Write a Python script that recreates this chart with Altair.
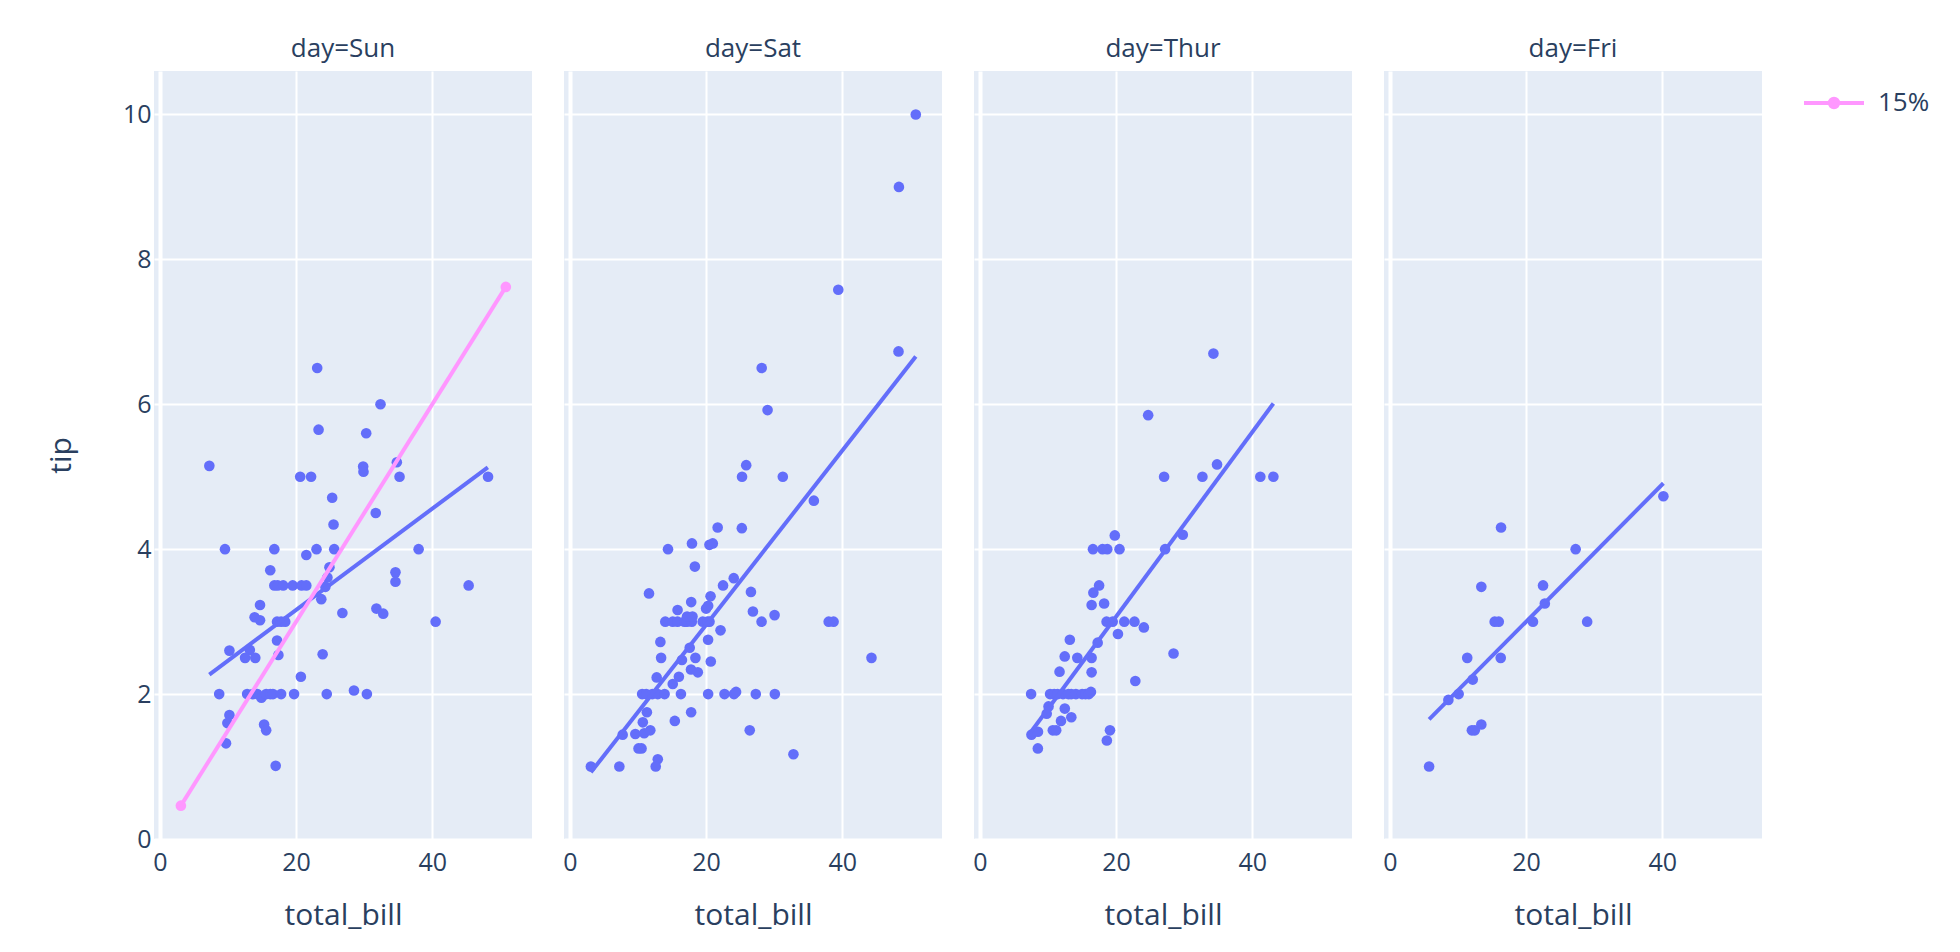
import altair as alt
import pandas as pd

BLUE = "#636EFA"
PINK = "#FF97FF"
TXT = "#2a3f5f"
FONT = "Open Sans"

days = ["Sun", "Sat", "Thur", "Fri"]

sun_bill = [23.1, 32.4, 23.3, 30.3, 7.25, 29.85, 29.9, 34.8, 35.2, 20.6, 22.2, 48.2, 25.3, 31.7, 25.5,
            9.55, 16.8, 23.0, 25.6, 38.0, 21.5, 16.2, 24.9, 24.6, 16.8, 17.3, 18.1, 19.5, 20.8, 21.5,
            24.3, 34.6, 34.6, 45.35, 23.7, 26.8, 31.8, 32.8, 40.5, 14.7, 13.9, 14.7, 17.2, 17.8, 18.4,
            17.2, 10.2, 13.2, 12.5, 14.0, 17.4, 23.9, 20.7, 8.7, 12.8, 13.6, 14.3, 14.9, 15.6, 16.2,
            16.6, 17.8, 19.7, 24.5, 28.5, 30.4, 10.2, 9.9, 9.7, 15.3, 15.6, 17.0]
sun_tip = [6.5, 6.0, 5.65, 5.6, 5.15, 5.14, 5.07, 5.2, 5.0, 5.0, 5.0, 5.0, 4.71, 4.5, 4.34,
           4.0, 4.0, 4.0, 4.0, 4.0, 3.92, 3.71, 3.75, 3.61, 3.5, 3.5, 3.5, 3.5, 3.5, 3.5,
           3.48, 3.68, 3.55, 3.5, 3.31, 3.12, 3.18, 3.11, 3.0, 3.23, 3.06, 3.02, 3.0, 3.0, 3.0,
           2.74, 2.6, 2.61, 2.5, 2.5, 2.54, 2.55, 2.24, 2.0, 2.0, 2.0, 2.0, 1.95, 2.0, 2.0,
           2.0, 2.0, 2.0, 2.0, 2.05, 2.0, 1.71, 1.6, 1.32, 1.58, 1.5, 1.01]

sat_bill = [50.81, 48.33, 39.42, 48.27, 28.17, 29.03, 25.89, 25.28, 31.27, 35.83, 21.7, 25.25, 14.4,
            17.92, 20.49, 20.98, 18.35, 11.61, 24.06, 22.49, 26.59, 20.65, 17.81, 15.81, 20.0, 20.3,
            26.88, 30.06, 28.15, 38.01, 38.73, 44.3, 14.0, 15.1, 15.8, 16.8, 17.2, 17.9, 19.5, 20.2,
            20.5, 17.2, 18.0, 22.12, 20.29, 13.28, 13.39, 17.59, 16.45, 18.43, 20.69, 17.78, 18.78,
            12.74, 16.0, 15.1, 10.6, 11.2, 12.1, 12.9, 13.9, 16.3, 20.3, 22.7, 24.1, 24.4, 27.3, 30.1,
            11.3, 15.4, 17.8, 10.7, 7.74, 9.6, 10.9, 11.8, 26.41, 10.07, 10.51, 32.83, 12.9, 3.07,
            7.25, 12.6]
sat_tip = [10.0, 9.0, 7.58, 6.73, 6.5, 5.92, 5.16, 5.0, 5.0, 4.67, 4.3, 4.29, 4.0,
           4.08, 4.06, 4.08, 3.76, 3.39, 3.6, 3.5, 3.41, 3.35, 3.27, 3.16, 3.18, 3.22,
           3.14, 3.09, 3.0, 3.0, 3.0, 2.5, 3.0, 3.0, 3.0, 3.0, 3.0, 3.0, 3.0, 3.0,
           3.0, 3.07, 3.07, 2.88, 2.75, 2.72, 2.5, 2.64, 2.47, 2.5, 2.45, 2.34, 2.3,
           2.23, 2.24, 2.14, 2.0, 2.0, 2.0, 2.0, 2.0, 2.0, 2.0, 2.0, 2.0, 2.03, 2.0, 2.0,
           1.75, 1.63, 1.75, 1.61, 1.44, 1.45, 1.46, 1.5, 1.5, 1.25, 1.25, 1.17, 1.1, 1.0,
           1.0, 1.0]

thur_bill = [34.3, 24.71, 34.83, 27.05, 32.68, 41.19, 43.11, 29.8, 19.81, 16.6, 18.0, 18.7, 20.5,
             27.2, 17.5, 16.66, 16.4, 18.24, 18.6, 19.5, 21.2, 22.7, 24.08, 20.27, 13.2, 17.29,
             12.45, 14.3, 16.4, 11.69, 16.4, 28.44, 22.82, 7.51, 10.3, 10.9, 11.4, 12.2, 13.0,
             13.4, 14.1, 15.0, 15.5, 16.0, 16.3, 10.07, 9.8, 12.46, 11.9, 13.42, 10.7, 11.2,
             7.56, 8.52, 8.5, 19.1, 18.64]
thur_tip = [6.7, 5.85, 5.17, 5.0, 5.0, 5.0, 5.0, 4.2, 4.19, 4.0, 4.0, 4.0, 4.0,
            4.0, 3.5, 3.4, 3.23, 3.25, 3.0, 3.0, 3.0, 3.0, 2.92, 2.83, 2.75, 2.71,
            2.52, 2.5, 2.5, 2.31, 2.3, 2.56, 2.18, 2.0, 2.0, 2.0, 2.0, 2.0, 2.0,
            2.0, 2.0, 2.0, 2.0, 2.0, 2.03, 1.83, 1.73, 1.8, 1.63, 1.68, 1.5, 1.5,
            1.44, 1.48, 1.25, 1.5, 1.36]

fri_bill = [40.17, 16.32, 27.28, 13.42, 22.49, 22.75, 15.38, 15.98, 21.01, 28.97, 11.35, 16.27,
            12.16, 10.09, 8.58, 13.42, 12.03, 12.46, 5.75]
fri_tip = [4.73, 4.3, 4.0, 3.48, 3.5, 3.25, 3.0, 3.0, 3.0, 3.0, 2.5, 2.5,
           2.2, 2.0, 1.92, 1.58, 1.5, 1.5, 1.0]

# OLS trendline end points
trend_x0 = [7.25, 3.07, 7.51, 5.75]
trend_y0 = [2.27, 0.92, 1.48, 1.65]
trend_x1 = [48.17, 50.81, 43.11, 40.17]
trend_y1 = [5.13, 6.66, 6.01, 4.91]

# 15% reference line (Sun panel only)
ref_x = [3.07, 50.81]
ref_y = [0.46, 7.62]
ref_name = "15%"

bills = {"Sun": sun_bill, "Sat": sat_bill, "Thur": thur_bill, "Fri": fri_bill}
tips = {"Sun": sun_tip, "Sat": sat_tip, "Thur": thur_tip, "Fri": fri_tip}

X_DOM = [-0.88, 54.66]
Y_DOM = [0, 10.6]
W, H = 378, 768

LEGEND_PATH = ("M-1,0L1,0M-0.14,0A0.14,0.14,0,1,0,0.14,0"
               "A0.14,0.14,0,1,0,-0.14,0Z")


def panel(i, day):
    first = i == 0
    xaxis = alt.Axis(values=[0, 20, 40], title="total_bill", ticks=False, domain=False,
                     labelPadding=11, titlePadding=25,
                     gridWidth={"condition": {"test": "datum.value === 0", "value": 4}, "value": 2})
    if first:
        yaxis = alt.Axis(values=[0, 2, 4, 6, 8, 10], format="d", title="tip", ticks=False,
                         domain=False, labelPadding=3, titlePadding=46)
    else:
        yaxis = alt.Axis(values=[0, 2, 4, 6, 8, 10], title=None, labels=False, ticks=False,
                         domain=False, minExtent=0, maxExtent=0)
    xs = alt.Scale(domain=X_DOM, nice=False, zero=False)
    ys = alt.Scale(domain=Y_DOM, nice=False, zero=False)

    pts = pd.DataFrame({"total_bill": bills[day], "tip": tips[day]})
    scatter = alt.Chart(pts).mark_circle(size=113, opacity=1, color=BLUE).encode(
        x=alt.X("total_bill:Q", scale=xs, axis=xaxis),
        y=alt.Y("tip:Q", scale=ys, axis=yaxis),
    )
    tr = pd.DataFrame({"total_bill": [trend_x0[i], trend_x1[i]],
                       "tip": [trend_y0[i], trend_y1[i]]})
    trend = alt.Chart(tr).mark_line(color=BLUE, strokeWidth=4).encode(
        x=alt.X("total_bill:Q", scale=xs), y=alt.Y("tip:Q", scale=ys))
    layers = [scatter, trend]
    if day == "Sun":
        ref = pd.DataFrame({"total_bill": ref_x, "tip": ref_y, "series": [ref_name] * 2})
        refl = alt.Chart(ref).mark_line(
            strokeWidth=4,
            point=alt.OverlayMarkDef(size=113, filled=True, opacity=1),
        ).encode(
            x=alt.X("total_bill:Q", scale=xs),
            y=alt.Y("tip:Q", scale=ys),
            color=alt.Color("series:N", scale=alt.Scale(domain=[ref_name], range=[PINK]),
                            legend=alt.Legend(title=None, orient="right", offset=40,
                                              symbolType=LEGEND_PATH, symbolSize=3600,
                                              symbolStrokeWidth=4, symbolFillColor=PINK,
                                              symbolStrokeColor=PINK, labelFontSize=26,
                                              labelFont=FONT, labelColor=TXT, labelOffset=12,
                                              padding=0)),
        )
        layers.append(refl)
    return alt.layer(*layers).properties(
        width=W, height=H,
        title=alt.TitleParams(f"day={day}", fontSize=26, font=FONT, color=TXT,
                              fontWeight="normal", anchor="middle", baseline="alphabetic",
                              offset=-12),
    )


chart = alt.hconcat(*[panel(i, d) for i, d in enumerate(days)], spacing=32, bounds="flush").properties(
    padding={"left": 38, "top": 28, "right": 10, "bottom": 10},
    background="white",
).configure_view(fill="#E5ECF6", stroke=None).configure_axis(
    gridColor="white", gridWidth=2, labelFont=FONT, labelFontSize=25, labelColor=TXT,
    titleFont=FONT, titleFontSize=30, titleColor=TXT, titleFontWeight="normal",
)

chart.save("out.html", embed_options={"renderer": "svg", "actions": False})
